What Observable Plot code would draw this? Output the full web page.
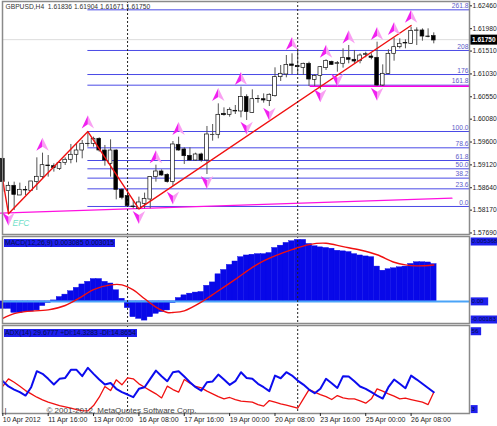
<!DOCTYPE html>
<html><head><meta charset="utf-8">
<script src="https://cdn.jsdelivr.net/npm/d3@7"></script>
<script src="https://cdn.jsdelivr.net/npm/@observablehq/plot@0.6"></script>
<style>
html,body{margin:0;padding:0;background:#fff;overflow:hidden}
#c{position:relative;width:497px;height:426px;font-family:"Liberation Sans",sans-serif}
#c svg{position:absolute;left:0;overflow:visible;background:transparent}
.hd{position:absolute;left:4px;height:8px;line-height:8px;background:#1f1fee;color:#00104a;font-size:6.9px;white-space:nowrap;padding:0 1px}
</style></head><body><div id="c"></div>
<script>
const symbolName="GBPUSD,H4", ohlcText="1.61836 1.61904 1.61671 1.61750";
const opens=[1.59250,1.58564,1.58677,1.58472,1.58592,1.58564,1.58755,1.58861,1.59108,1.59094,1.59031,1.59158,1.59229,1.59335,1.59426,1.59568,1.59568,1.59674,1.59426,1.59144,1.59426,1.58592,1.58458,1.58239,1.58189,1.58295,1.58387,1.58861,1.58981,1.58910,1.58755,1.59547,1.59448,1.59313,1.59214,1.59342,1.59214,1.59752,1.59759,1.60204,1.60183,1.60254,1.60254,1.60558,1.60225,1.60515,1.60515,1.60473,1.60579,1.60982,1.61038,1.61251,1.61222,1.61180,1.61265,1.60925,1.61010,1.61173,1.61307,1.61265,1.61265,1.61385,1.61350,1.61321,1.61456,1.61420,1.61392,1.60805,1.61046,1.61477,1.61618,1.61696,1.61689,1.61965,1.61972,1.61844,1.61852];
const highs=[1.59250,1.58755,1.58755,1.58734,1.58663,1.58769,1.59271,1.59370,1.59320,1.59144,1.59179,1.59271,1.59554,1.59568,1.59639,1.59815,1.59709,1.59695,1.59533,1.59653,1.59441,1.58613,1.58613,1.58366,1.58437,1.58522,1.58875,1.59115,1.59016,1.58932,1.59617,1.59709,1.59483,1.59483,1.59370,1.59370,1.59936,1.59978,1.60416,1.60331,1.60331,1.60381,1.60770,1.60607,1.60713,1.60593,1.60628,1.60628,1.61180,1.61229,1.61441,1.61477,1.61583,1.61279,1.61300,1.61038,1.61208,1.61350,1.61321,1.61314,1.61583,1.61654,1.61548,1.61477,1.61512,1.61477,1.61724,1.61243,1.61562,1.61809,1.61795,1.61774,1.62042,1.62028,1.62007,1.62007,1.61922];
const lows=[1.58543,1.58119,1.58154,1.58472,1.58472,1.58564,1.58578,1.58826,1.58861,1.58967,1.59002,1.59109,1.59144,1.59165,1.59250,1.59497,1.59497,1.59391,1.59094,1.58861,1.58380,1.58380,1.58239,1.58189,1.58168,1.58189,1.58189,1.58755,1.58882,1.58734,1.58663,1.59412,1.59130,1.59200,1.59200,1.59179,1.58917,1.59624,1.59674,1.60155,1.60133,1.60190,1.60119,1.60063,1.60218,1.60430,1.60430,1.60360,1.60558,1.60890,1.60968,1.61038,1.61052,1.61017,1.60784,1.60784,1.60713,1.61123,1.61229,1.61088,1.61173,1.61265,1.61265,1.61265,1.61392,1.61350,1.60784,1.60784,1.61038,1.61321,1.61583,1.61583,1.61675,1.61653,1.61745,1.61816,1.61689];
const closes=[1.58755,1.58677,1.58486,1.58592,1.58578,1.58769,1.58868,1.59115,1.59094,1.59052,1.59158,1.59229,1.59335,1.59426,1.59568,1.59561,1.59674,1.59426,1.59214,1.59426,1.58592,1.58423,1.58246,1.58225,1.58324,1.58401,1.58861,1.58981,1.58896,1.58755,1.59554,1.59426,1.59306,1.59214,1.59342,1.59214,1.59766,1.59759,1.60183,1.60176,1.60289,1.60268,1.60558,1.60240,1.60515,1.60522,1.60487,1.60608,1.60982,1.61053,1.61243,1.61222,1.61194,1.61265,1.60932,1.61010,1.61194,1.61328,1.61243,1.61279,1.61392,1.61350,1.61314,1.61441,1.61470,1.61392,1.60805,1.61053,1.61477,1.61618,1.61689,1.61710,1.61958,1.61972,1.61844,1.61837,1.61760];
const upArrowBars=[7,15,27,31,38,42,51,57,61,66,69,72];
const upArrowPrices=[1.59554,1.60027,1.59285,1.59886,1.60607,1.60947,1.61689,1.61526,1.61830,1.61901,1.62007,1.62269];
const downArrowBars=[1,24,30,36,43,47,56,59,66];
const downArrowPrices=[1.57977,1.58012,1.58423,1.58755,1.59907,1.60204,1.60593,1.60925,1.60628];
const fibLabels=["261.8","208","176","161.8","100.0","78.6","61.8","50.0","38.2","23.6","0.0"];
const fibPrices=[1.62410,1.61548,1.61038,1.60812,1.59829,1.59483,1.59214,1.59038,1.58840,1.58613,1.58239];
const zigBars=[0,1,15,24,72];
const zigPrices=[1.58790,1.58083,1.59829,1.58189,1.62078];
const trendBars=[-0.4,79.2];
const trendPrices=[1.58097,1.58415];
const supportStart=54.2, supportPrice=1.60791, lastPrice=1.6175;
const priceTicks=[1.6246,1.6198,1.6151,1.6103,1.6055,1.6008,1.596,1.5912,1.5864,1.5817,1.5769];
const histogram=[-.00062,-.00062,-.00095,-.00095,-.00089,-.00084,-.00075,-.00039,-.00014,.00008,.00036,.00056,.00084,.00112,.00140,.00162,.00185,.00185,.00162,.00148,.00092,.00022,-.00056,-.00131,-.00145,-.00159,-.00131,-.00103,-.00089,-.00075,-.00014,.00028,.00050,.00064,.00073,.00078,.00129,.00157,.00224,.00260,.00302,.00330,.00366,.00380,.00386,.00391,.00391,.00400,.00442,.00461,.00484,.00498,.00509,.00509,.00475,.00456,.00447,.00442,.00436,.00419,.00414,.00408,.00391,.00380,.00372,.00366,.00288,.00254,.00266,.00274,.00282,.00288,.00310,.00324,.00324,.00322,.003085];
const signalBars=[0,2,4,8,11,14,16,19,21,23,25,27,29,30,32,35,37,41,44,46,48,51,54,57,60,63,66,69,71,73,76];
const signalValues=[-.00140,-.00101,-.00084,-.00070,-.00034,.00042,.00098,.00137,.00137,.00095,.00022,-.00048,-.00092,-.00092,-.00078,-.00006,.00056,.00182,.00282,.00336,.00377,.00428,.00470,.00481,.00453,.00425,.00386,.00324,.00302,.00294,.003015];
const plusDI=[22,18.4,16.3,14.5,12.2,17.9,28.8,27,23.6,19.7,23.6,24.2,29.7,29.7,25.4,31.1,27,23.1,19.7,20.8,16.8,14.5,12.9,11.1,16.8,17.9,23.6,29.2,25.4,22,28.1,28.8,25.2,21.3,17.9,15.6,21.3,21.8,26.5,23.1,19.5,22,28.1,24.2,23.6,20.2,17.9,15.2,25.8,24,28.1,25.8,22.4,19.7,16.3,13.8,16.8,23.6,20.6,17.4,25.4,25.2,22,18.4,16.8,14.5,12.2,10.2,17.9,23.1,20.2,17.2,25.8,23.1,20.2,17.4,14.5];
const minusDI=[18.6,23.6,21.3,18.6,15.6,13.4,11.1,9.3,7.7,6.6,5.4,4.5,3.6,2.7,2,1.8,5.4,11.1,18.4,15.6,22.9,19.5,24.2,23.6,20.2,17.9,15.6,13.4,10.6,18.6,16.3,14.5,23.1,20.6,18.4,17.4,15.2,13.4,11.5,10,10.9,9.5,8.4,8.1,7.7,6.1,5,8.8,7.7,6.6,5.7,4.7,3.6,10,16.3,14.5,12.9,11.5,9.5,12.2,10.6,10,10,8.6,7,10,16.8,15.2,13.4,11.8,10,10.4,9.5,8.6,7.7,6.1,14.5];
const dateTicks=[0,8,16,24,32,40,48,56,64,72];
const dateLabels=["10 Apr 2012","11 Apr 16:00","13 Apr 00:00","16 Apr 08:00","17 Apr 16:00","19 Apr 00:00","20 Apr 08:00","23 Apr 16:00","25 Apr 00:00","26 Apr 08:00"];
const dottedBars=[22,52];
const macdLabels=["0.005368","0.00","-0.00183"];
const adxScale=[56,3];

/* readings were taken against the printed price ticks: small linear calibration */
const cal=p=>0.0159+0.99*p;
const bars=opens.map((o,i)=>({i,o:cal(o),h:cal(highs[i]),l:cal(lows[i]),c:cal(closes[i])}));
const xDomain=[-0.058,82.3], xEnd=82.3, W=497, F="Liberation Sans", FS=6.7;
const frameStroke="#8a8a8a", boxBlue="#1f1fee", boxText="#00104a";
const base={width:W,marginLeft:2,marginRight:28,x:{domain:xDomain,axis:null}};
const dotted=()=>Plot.ruleX(dottedBars,{x:d=>d,stroke:"#222",strokeWidth:1,strokeDasharray:"2,2"});
const arrow=(dir,half)=>({draw(ctx,size){const r=Math.sqrt(size),s=dir*half;ctx.moveTo(0,-dir*r*1.1);ctx.lineTo(s*r,dir*r*1.0);ctx.lineTo(0,dir*r*0.35);ctx.closePath();}});
const boxLabel=(text,value,dy)=>[
  Plot.ruleY([value],{x1:82.6,x2:Math.min(87.6,82.6+text.length*0.62+0.6),dy,stroke:boxBlue,strokeWidth:8}),
  Plot.text([text],{x:xEnd,y:value,text:d=>d,textAnchor:"start",dx:2,dy,fill:boxText,fontSize:6.2,fontFamily:F})
];

const main=Plot.plot({...base,height:235,marginTop:1,marginBottom:1,
  y:{domain:[1.57658,1.62551],axis:null},
  marks:[
    Plot.ruleY([lastPrice],{stroke:"#dcdcdc",strokeWidth:1}),
    Plot.ruleY(fibPrices.map(cal),{x1:15,x2:xEnd,y:d=>d,stroke:"#4a4ae6",strokeWidth:1}),
    Plot.text(fibLabels,{x:xEnd,y:(d,i)=>cal(fibPrices[i]),text:d=>d,textAnchor:"end",dx:-1,dy:-4,fill:"#5b5bc8",fontSize:FS,fontFamily:F}),
    Plot.ruleY([cal(supportPrice)],{x1:supportStart,x2:xEnd,stroke:"#ff00e0",strokeWidth:1.5}),
    Plot.line(trendBars,{x:d=>d,y:(d,i)=>cal(trendPrices[i]),stroke:"#ff10e0",strokeWidth:1.4}),
    Plot.ruleX(bars,{x:"i",y1:"l",y2:"h",stroke:"#555",strokeWidth:1}),
    Plot.rect(bars,{x1:d=>d.i-.33,x2:d=>d.i+.33,y1:"o",y2:"c",fill:d=>d.c>=d.o?"#fff":"#000",stroke:"#111",strokeWidth:.7}),
    Plot.line(zigBars,{x:d=>d,y:(d,i)=>cal(zigPrices[i]),stroke:"#f01010",strokeWidth:1.4}),
    Plot.dot(upArrowBars,{x:d=>d,y:(d,i)=>cal(upArrowPrices[i]),r:3.5,symbol:arrow(1,-1),fill:"#f020f0"}),
    Plot.dot(upArrowBars,{x:d=>d,y:(d,i)=>cal(upArrowPrices[i]),r:3.5,symbol:arrow(1,1),fill:"#f9a0f2"}),
    Plot.dot(downArrowBars,{x:d=>d,y:(d,i)=>cal(downArrowPrices[i]),r:3.5,symbol:arrow(-1,-1),fill:"#f9a0f2"}),
    Plot.dot(downArrowBars,{x:d=>d,y:(d,i)=>cal(downArrowPrices[i]),r:3.5,symbol:arrow(-1,1),fill:"#f020f0"}),
    dotted(),
    Plot.frame({stroke:frameStroke,strokeWidth:1.5}),
    Plot.axisY(priceTicks,{anchor:"right",tickFormat:d3.format(".5f"),tickSize:2,tickPadding:1,fontSize:FS,fontFamily:F,color:"#222"}),
    Plot.ruleY([lastPrice],{x1:82.55,x2:87.7,stroke:"#000",strokeWidth:10}),
    Plot.text(["1.61750"],{x:xEnd,y:lastPrice,text:d=>d,textAnchor:"start",dx:2.5,fill:"#fff",fontWeight:"bold",fontSize:6.5,fontFamily:F}),
    Plot.text([symbolName+"  "+ohlcText],{frameAnchor:"top-left",dx:3,dy:3,fill:"#333",fontSize:FS,fontFamily:F}),
    Plot.text(["EFC"],{frameAnchor:"bottom-left",dx:10,dy:-9,fill:"#70e0c8",fontSize:8.5,fontStyle:"italic",fontFamily:F})
  ]});
main.style.top="0px";

const macd=Plot.plot({...base,height:89,marginTop:1,marginBottom:1,
  y:{domain:[-.00183,.005368],axis:null},
  marks:[
    Plot.rectY(histogram,{x1:(d,i)=>i-.5,x2:(d,i)=>i+.5,y1:0,y2:d=>d,fill:"#0808e8",stroke:"#0808e8",strokeWidth:.4}),
    Plot.ruleY([0],{stroke:"#4aa4f8",strokeWidth:2}),
    Plot.line(signalBars,{x:d=>d,y:(d,i)=>signalValues[i],curve:"catmull-rom",stroke:"#f01010",strokeWidth:1.4}),
    dotted(),
    Plot.frame({stroke:frameStroke,strokeWidth:1.5}),
    ...boxLabel(macdLabels[0],.005368,5),
    ...boxLabel(macdLabels[1],0,0),
    ...boxLabel(macdLabels[2],-.00183,-4)
  ]});
macd.style.top="235px";

const adx=Plot.plot({...base,height:102,marginTop:1,marginBottom:13,
  y:{domain:[0,59.9],axis:null},
  marks:[
    dotted(),
    Plot.line(minusDI,{x:(d,i)=>i,y:d=>d,stroke:"#f01010",strokeWidth:1.3}),
    Plot.line(plusDI,{x:(d,i)=>i,y:d=>d,stroke:"#0c0cee",strokeWidth:2}),
    Plot.frame({stroke:frameStroke,strokeWidth:1.5}),
    ...boxLabel(String(adxScale[0]),adxScale[0],0),
    ...boxLabel(String(adxScale[1]),adxScale[1],0),
    Plot.axisX(dateTicks,{anchor:"bottom",tickSize:3,tickPadding:1,tickFormat:(d,i)=>dateLabels[dateTicks.indexOf(d)],textAnchor:"start",fontSize:7,fontFamily:F,color:"#222"}),
    Plot.text(["© 2001-2012, MetaQuotes Software Corp."],{frameAnchor:"bottom-left",dx:44,dy:-1,fill:"#444",fontSize:8,fontFamily:F}),
    Plot.text(["|"],{frameAnchor:"bottom-left",dx:2,dy:-1,fill:"#333",fontSize:8,fontFamily:F})
  ]});
adx.style.top="324px";

const c=document.getElementById("c");
c.append(main,macd,adx);
for(const [t,top] of [["MACD(12,26,9) 0.003085 0.003015",239],["ADX(14) 29.6777 +DI:14.3283 -DI:14.8654",329]]){
  const d=document.createElement("div");d.className="hd";d.textContent=t;d.style.top=top+"px";c.append(d);
}
</script></body></html>
